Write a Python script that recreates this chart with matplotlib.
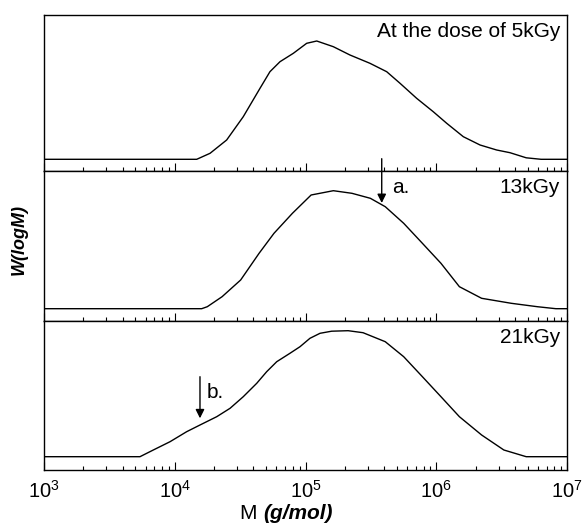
import numpy as np
import matplotlib
matplotlib.use("Agg")
import matplotlib.pyplot as plt
from matplotlib.ticker import LogLocator, LogFormatterSciNotation, NullFormatter

plt.rcParams['font.family'] = ['Liberation Sans', 'DejaVu Sans']
plt.rcParams['mathtext.fontset'] = 'custom'
plt.rcParams['mathtext.rm'] = 'Liberation Sans'
plt.rcParams['mathtext.it'] = 'Liberation Sans:italic'
plt.rcParams['mathtext.bf'] = 'Liberation Sans:bold'

# molecular weight distributions (log10 M, W in arb. units)
logM_5 = [3.0, 4.168, 4.270, 4.397, 4.524, 4.652, 4.728, 4.805, 4.907, 5.009, 5.086,
          5.213, 5.340, 5.493, 5.621, 5.723, 5.850, 5.977, 6.080, 6.207, 6.335,
          6.462, 6.564, 6.688, 6.802, 7.0]
W_5 = [0, 0, 6, 19.3, 42.6, 71, 87.6, 97.6, 106, 116, 118.3,
       112.6, 104.3, 96, 87.6, 76, 61, 47.6, 36, 22.6, 14.3,
       9.3, 6.6, 1.5, 0, 0]

logM_13 = [3.0, 4.206, 4.249, 4.362, 4.504, 4.645, 4.759, 4.900, 5.043, 5.213, 5.355,
           5.496, 5.610, 5.751, 5.894, 6.036, 6.177, 6.347, 6.574, 6.773, 6.915, 7.0]
W_13 = [0, 0, 2, 12, 28.7, 55.4, 75.4, 95.4, 113.7, 118, 115.4,
        110.4, 102, 85.4, 65.4, 45.4, 22, 10.4, 5.4, 2, 0, 0]

logM_21 = [3.0, 3.734, 3.836, 3.964, 4.091, 4.193, 4.321, 4.423, 4.524, 4.627, 4.703,
           4.780, 4.881, 4.958, 5.034, 5.111, 5.200, 5.326, 5.440, 5.610, 5.751,
           5.894, 6.036, 6.177, 6.347, 6.517, 6.688, 7.0]
W_21 = [0, 0, 6.7, 15, 25, 31.7, 40, 48.4, 60, 73.4, 85,
        95, 103.4, 110, 118.4, 123.4, 125.5, 126, 124, 115, 100,
        80, 60, 40, 21.7, 6.7, 0, 0]

labels = ["At the dose of 5kGy", "13kGy", "21kGy"]

fig = plt.figure(figsize=(5.82, 5.27), dpi=100)
W, H = 582.0, 527.0
L, R = 44, 567

def px_axes(top, bottom):
    return fig.add_axes([L / W, (H - bottom) / H, (R - L) / W, (bottom - top) / H])

ax1 = px_axes(15, 171)
ax2 = px_axes(171, 321)
ax3 = px_axes(321, 470)

series = [(ax1, logM_5, W_5, (-11.7, 144.3), 0.857),
          (ax2, logM_13, W_13, (-12.3, 137.7), 0.853),
          (ax3, logM_21, W_21, (-13.3, 135.7), 0.852)]

for i, (ax, lm, w, yl, ty) in enumerate(series):
    ax.plot(10 ** np.array(lm), w, color='black', lw=1.0)
    ax.set_xscale('log')
    ax.set_xlim(1e3, 1e7)
    ax.set_ylim(*yl)
    ax.set_yticks([])
    ax.xaxis.set_major_locator(LogLocator(base=10, numticks=10))
    ax.xaxis.set_minor_locator(LogLocator(base=10, subs=np.arange(2, 10), numticks=20))
    ax.tick_params(axis='x', which='major', direction='in', length=6, width=0.8)
    ax.tick_params(axis='x', which='minor', direction='in', length=3.1, width=0.8)
    for sp in ax.spines.values():
        sp.set_linewidth(1.0)
    if i < 2:
        ax.xaxis.set_major_formatter(NullFormatter())
    else:
        ax.xaxis.set_major_formatter(LogFormatterSciNotation())
        ax.tick_params(axis='x', labelsize=14.5, pad=7)
    ax.xaxis.set_minor_formatter(NullFormatter())
    ax.text(0.987, ty, labels[i], transform=ax.transAxes,
            ha='right', va='baseline', fontsize=15)

# arrows
ax2.annotate('', xy=(10 ** 5.583, 105.7), xytext=(10 ** 5.583, 150),
             arrowprops=dict(arrowstyle='-|>', color='black', lw=1.0,
                             mutation_scale=13, shrinkA=0, shrinkB=0),
             annotation_clip=False)
ax2.text(10 ** 5.659, 115.7, 'a.', fontsize=15, ha='left', va='baseline')

ax3.annotate('', xy=(10 ** 4.193, 38.4), xytext=(10 ** 4.193, 80),
             arrowprops=dict(arrowstyle='-|>', color='black', lw=1.0,
                             mutation_scale=13, shrinkA=0, shrinkB=0))
ax3.text(10 ** 4.247, 58.7, 'b.', fontsize=15, ha='left', va='baseline')

fig.text(19 / W, 1 - 240 / H, 'W(logM)', rotation=90, ha='center', va='center',
         fontsize=13, fontweight='bold', fontstyle='italic')
fig.text(263 / W, 1 - 519 / H, 'M ', ha='right', va='baseline', fontsize=15)
fig.text(263 / W, 1 - 519 / H, '(g/mol)', ha='left', va='baseline', fontsize=15,
         fontweight='bold', fontstyle='italic')

fig.savefig('out.png', dpi=100)
